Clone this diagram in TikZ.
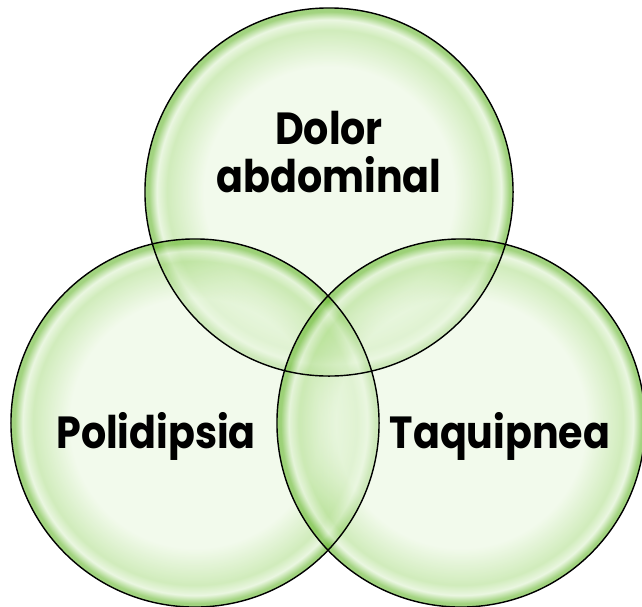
\documentclass[tikz,border=0pt]{standalone}
\usepackage{fontspec}
\newfontfamily\bubblefont[FakeStretch=0.88]{Poppins}
\usetikzlibrary{calc}
\definecolor{bub-in}{RGB}{234,247,224}
\definecolor{bub-mid}{RGB}{180,224,146}
\definecolor{bub-out}{RGB}{104,184,48}
\pgfdeclareradialshading{bubble}{\pgfpoint{0bp}{0bp}}{%
  color(0bp)=(bub-in); color(17bp)=(bub-in); color(22bp)=(bub-mid);
  color(23.4bp)=(white!55!bub-mid); color(24.5bp)=(bub-out);
  color(25bp)=(bub-out); color(50bp)=(bub-out)}

\begin{document}
\begin{tikzpicture}[x=0.025cm, y=-0.025cm,
    lab/.style={font=\bubblefont\bfseries\fontsize{32}{40}\selectfont,
      align=center, text=black, inner sep=0pt}]
  \useasboundingbox (0,0) rectangle (642,606);
  % Centres des cercles
  \coordinate (c-dolor) at (329,192);
  \coordinate (c-poli) at (195,423);
  \coordinate (c-taqui) at (461,423);

  % Bulles
  \foreach \c in {dolor, poli, taqui}{
    \shade[shading=bubble, fill opacity=0.62] (c-\c) circle[radius=4.6cm];
  }
  % Contours
  \foreach \c in {dolor, poli, taqui}{
    \draw[black, line width=1pt] (c-\c) circle[radius=4.6cm];
  }

  % Textes
  \node[lab] (dolor) at (329,152) {Dolor\\[-6pt]abdominal};
  \node[lab] (poli) at (156,436) {Polidipsia};
  \node[lab] (taqui) at (500,436) {Taquipnea};
\end{tikzpicture}
\end{document}
